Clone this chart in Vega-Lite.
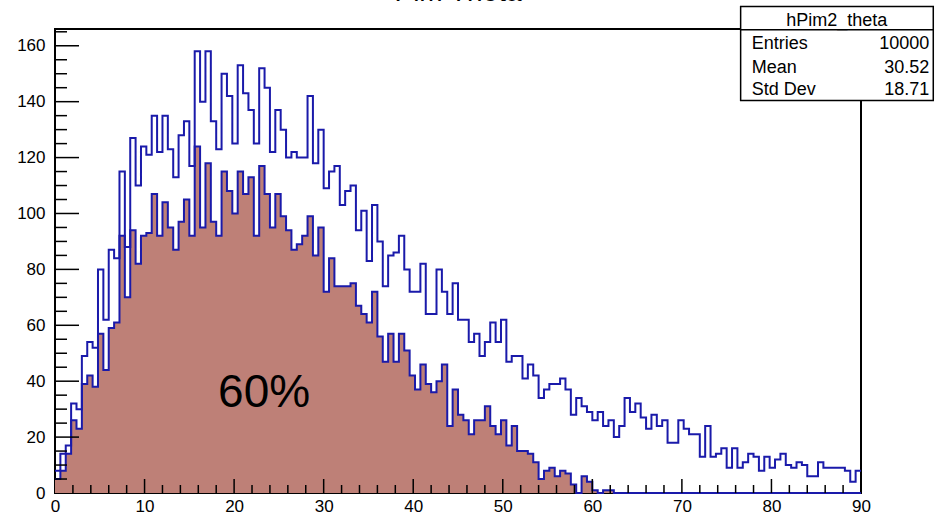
{
  "$schema": "https://vega.github.io/schema/vega-lite/v6.json",
  "width": 806,
  "height": 464,
  "autosize": {"type": "none"},
  "padding": {"left": 55, "top": 29, "right": 76, "bottom": 23},
  "background": "white",
  "config": {
    "view": {"stroke": "black", "strokeWidth": 2},
    "font": "Liberation Sans",
    "axis": {"grid": false, "domain": false, "labelFlush": false, "labelColor": "black"}
  },
  "title": {"text": "Pim Theta", "fontSize": 28, "font": "Liberation Sans", "fontWeight": "normal", "color": "black", "anchor": "middle", "frame": "group", "offset": 0, "dy": 1},
  "datasets": {
    "h": [
      {"lo":0,"all":8,"sel":5},{"lo":0.6,"all":14,"sel":8},{"lo":1.2,"all":17,"sel":14},{"lo":1.8,"all":32,"sel":26},{"lo":2.4,"all":30,"sel":23},{"lo":3,"all":49,"sel":39},{"lo":3.6,"all":54,"sel":42},{"lo":4.2,"all":52,"sel":38},{"lo":4.8,"all":80,"sel":57},{"lo":5.4,"all":62,"sel":44},
      {"lo":6,"all":87,"sel":59},{"lo":6.6,"all":84,"sel":61},{"lo":7.2,"all":115,"sel":92},{"lo":7.8,"all":88,"sel":70},{"lo":8.4,"all":127,"sel":94},{"lo":9,"all":110,"sel":82},{"lo":9.6,"all":124,"sel":92},{"lo":10.2,"all":121,"sel":93},{"lo":10.8,"all":135,"sel":107},{"lo":11.4,"all":122,"sel":92},
      {"lo":12,"all":135,"sel":104},{"lo":12.6,"all":123,"sel":95},{"lo":13.2,"all":113,"sel":87},{"lo":13.8,"all":128,"sel":97},{"lo":14.4,"all":133,"sel":105},{"lo":15,"all":117,"sel":92},{"lo":15.6,"all":158,"sel":124},{"lo":16.2,"all":140,"sel":95},{"lo":16.8,"all":158,"sel":118},{"lo":17.4,"all":133,"sel":97},
      {"lo":18,"all":123,"sel":92},{"lo":18.6,"all":150,"sel":115},{"lo":19.2,"all":142,"sel":108},{"lo":19.8,"all":125,"sel":100},{"lo":20.4,"all":153,"sel":115},{"lo":21,"all":143,"sel":107},{"lo":21.6,"all":137,"sel":113},{"lo":22.2,"all":125,"sel":92},{"lo":22.8,"all":152,"sel":117},{"lo":23.4,"all":145,"sel":107},
      {"lo":24,"all":122,"sel":95},{"lo":24.6,"all":137,"sel":107},{"lo":25.2,"all":130,"sel":99},{"lo":25.8,"all":120,"sel":94},{"lo":26.4,"all":122,"sel":87},{"lo":27,"all":120,"sel":89},{"lo":27.6,"all":120,"sel":92},{"lo":28.2,"all":142,"sel":99},{"lo":28.8,"all":118,"sel":85},{"lo":29.4,"all":130,"sel":95},
      {"lo":30,"all":109,"sel":72},{"lo":30.6,"all":115,"sel":84},{"lo":31.2,"all":117,"sel":74},{"lo":31.8,"all":103,"sel":74},{"lo":32.4,"all":108,"sel":74},{"lo":33,"all":110,"sel":75},{"lo":33.6,"all":94,"sel":67},{"lo":34.2,"all":101,"sel":64},{"lo":34.8,"all":83,"sel":61},{"lo":35.4,"all":103,"sel":72},
      {"lo":36,"all":90,"sel":56},{"lo":36.6,"all":74,"sel":47},{"lo":37.2,"all":85,"sel":57},{"lo":37.8,"all":86,"sel":47},{"lo":38.4,"all":92,"sel":57},{"lo":39,"all":80,"sel":51},{"lo":39.6,"all":72,"sel":42},{"lo":40.2,"all":72,"sel":37},{"lo":40.8,"all":82,"sel":46},{"lo":41.4,"all":64,"sel":39},
      {"lo":42,"all":64,"sel":36},{"lo":42.6,"all":80,"sel":40},{"lo":43.2,"all":72,"sel":46},{"lo":43.8,"all":64,"sel":24},{"lo":44.4,"all":75,"sel":37},{"lo":45,"all":62,"sel":28},{"lo":45.6,"all":62,"sel":26},{"lo":46.2,"all":54,"sel":21},{"lo":46.8,"all":57,"sel":26},{"lo":47.4,"all":49,"sel":26},
      {"lo":48,"all":54,"sel":31},{"lo":48.6,"all":61,"sel":24},{"lo":49.2,"all":54,"sel":21},{"lo":49.8,"all":62,"sel":26},{"lo":50.4,"all":47,"sel":17},{"lo":51,"all":49,"sel":24},{"lo":51.6,"all":49,"sel":15},{"lo":52.2,"all":41,"sel":15},{"lo":52.8,"all":46,"sel":14},{"lo":53.4,"all":42,"sel":11},
      {"lo":54,"all":34,"sel":5},{"lo":54.6,"all":37,"sel":8},{"lo":55.2,"all":39,"sel":9},{"lo":55.8,"all":39,"sel":6},{"lo":56.4,"all":41,"sel":8},{"lo":57,"all":37,"sel":7},{"lo":57.6,"all":28,"sel":3},{"lo":58.2,"all":34,"sel":0},{"lo":58.8,"all":31,"sel":6},{"lo":59.4,"all":29,"sel":4},
      {"lo":60,"all":26,"sel":1},{"lo":60.6,"all":29,"sel":0},{"lo":61.2,"all":24,"sel":1},{"lo":61.8,"all":26,"sel":1},{"lo":62.4,"all":20,"sel":0},{"lo":63,"all":24,"sel":0},{"lo":63.6,"all":34,"sel":0},{"lo":64.2,"all":29,"sel":0},{"lo":64.8,"all":32,"sel":0},{"lo":65.4,"all":27,"sel":0},
      {"lo":66,"all":23,"sel":0},{"lo":66.6,"all":28,"sel":0},{"lo":67.2,"all":24,"sel":0},{"lo":67.8,"all":26,"sel":0},{"lo":68.4,"all":18,"sel":0},{"lo":69,"all":18,"sel":0},{"lo":69.6,"all":26,"sel":0},{"lo":70.2,"all":23,"sel":0},{"lo":70.8,"all":21,"sel":0},{"lo":71.4,"all":21,"sel":0},
      {"lo":72,"all":13,"sel":0},{"lo":72.6,"all":24,"sel":0},{"lo":73.2,"all":13,"sel":0},{"lo":73.8,"all":14,"sel":0},{"lo":74.4,"all":16,"sel":0},{"lo":75,"all":9,"sel":0},{"lo":75.6,"all":16,"sel":0},{"lo":76.2,"all":9,"sel":0},{"lo":76.8,"all":11,"sel":0},{"lo":77.4,"all":14,"sel":0},
      {"lo":78,"all":13,"sel":0},{"lo":78.6,"all":8,"sel":0},{"lo":79.2,"all":13,"sel":0},{"lo":79.8,"all":9,"sel":0},{"lo":80.4,"all":12,"sel":0},{"lo":81,"all":14,"sel":0},{"lo":81.6,"all":10,"sel":0},{"lo":82.2,"all":9,"sel":0},{"lo":82.8,"all":11,"sel":0},{"lo":83.4,"all":10,"sel":0},
      {"lo":84,"all":6,"sel":0},{"lo":84.6,"all":6,"sel":0},{"lo":85.2,"all":11,"sel":0},{"lo":85.8,"all":9,"sel":0},{"lo":86.4,"all":9,"sel":0},{"lo":87,"all":9,"sel":0},{"lo":87.6,"all":9,"sel":0},{"lo":88.2,"all":8,"sel":0},{"lo":88.8,"all":4,"sel":0},{"lo":89.4,"all":8,"sel":0},
      {"lo":90,"all":8,"sel":0}
    ],
    "xmajor": [{"v":10},{"v":20},{"v":30},{"v":40},{"v":50},{"v":60},{"v":70},{"v":80}],
    "xminor": [{"v":2},{"v":4},{"v":6},{"v":8},{"v":12},{"v":14},{"v":16},{"v":18},{"v":22},{"v":24},{"v":26},{"v":28},{"v":32},{"v":34},{"v":36},{"v":38},{"v":42},{"v":44},{"v":46},{"v":48},{"v":52},{"v":54},{"v":56},{"v":58},{"v":62},{"v":64},{"v":66},{"v":68},{"v":72},{"v":74},{"v":76},{"v":78},{"v":82},{"v":84},{"v":86},{"v":88}],
    "ymajor": [{"v":20},{"v":40},{"v":60},{"v":80},{"v":100},{"v":120},{"v":140},{"v":160}],
    "yminor": [{"v":5},{"v":10},{"v":15},{"v":25},{"v":30},{"v":35},{"v":45},{"v":50},{"v":55},{"v":65},{"v":70},{"v":75},{"v":85},{"v":90},{"v":95},{"v":105},{"v":110},{"v":115},{"v":125},{"v":130},{"v":135},{"v":145},{"v":150},{"v":155},{"v":165}],
    "box": [{"name": "hPim2_theta"}]
  },
  "layer": [
    {
      "data": {"name": "h"},
      "mark": {"type": "area", "interpolate": "step-after", "color": "#BE8077"},
      "encoding": {
        "x": {"field": "lo", "type": "quantitative", "scale": {"domain": [0, 90], "nice": false, "zero": false},
              "axis": {"orient": "bottom", "title": null, "values": [0,10,20,30,40,50,60,70,80,90], "ticks": false, "labelFontSize": 17, "labelPadding": 5}},
        "y": {"field": "sel", "type": "quantitative", "scale": {"domain": [0, 166], "nice": false},
              "axis": {"orient": "left", "title": null, "values": [0,20,40,60,80,100,120,140,160], "ticks": false, "labelFontSize": 17, "labelPadding": 10}}
      }
    },
    {
      "data": {"name": "h"},
      "mark": {"type": "line", "interpolate": "step-after", "color": "#1A1AAA", "strokeWidth": 2},
      "encoding": {
        "x": {"field": "lo", "type": "quantitative"},
        "y": {"field": "sel", "type": "quantitative"}
      }
    },
    {
      "data": {"name": "h"},
      "mark": {"type": "line", "interpolate": "step-after", "color": "#1A1AAA", "strokeWidth": 2},
      "encoding": {
        "x": {"field": "lo", "type": "quantitative"},
        "y": {"field": "all", "type": "quantitative"}
      }
    },
    {
      "data": {"name": "xmajor"},
      "mark": {"type": "rule", "color": "#000000", "strokeWidth": 1.5},
      "encoding": {
        "x": {"field": "v", "type": "quantitative"},
        "y": {"datum": 0, "type": "quantitative"},
        "y2": {"datum": 5.01}
      }
    },
    {
      "data": {"name": "xminor"},
      "mark": {"type": "rule", "color": "#000000", "strokeWidth": 1.5},
      "encoding": {
        "x": {"field": "v", "type": "quantitative"},
        "y": {"datum": 0, "type": "quantitative"},
        "y2": {"datum": 2.86}
      }
    },
    {
      "data": {"name": "ymajor"},
      "mark": {"type": "rule", "color": "#000000", "strokeWidth": 1.5},
      "encoding": {
        "y": {"field": "v", "type": "quantitative"},
        "x": {"datum": 0, "type": "quantitative"},
        "x2": {"datum": 2.68}
      }
    },
    {
      "data": {"name": "yminor"},
      "mark": {"type": "rule", "color": "#000000", "strokeWidth": 1.5},
      "encoding": {
        "y": {"field": "v", "type": "quantitative"},
        "x": {"datum": 0, "type": "quantitative"},
        "x2": {"datum": 1.34}
      }
    },
    {
      "data": {"name": "box"},
      "mark": {"type": "rect", "fill": "white", "stroke": "black", "strokeWidth": 1.5},
      "encoding": {
        "x": {"datum": 76.56, "type": "quantitative"},
        "x2": {"datum": 98.07},
        "y": {"datum": 174.05, "type": "quantitative"},
        "y2": {"datum": 140.4}
      }
    },
    {
      "data": {"name": "box"},
      "mark": {"type": "rule", "color": "black", "strokeWidth": 1.5},
      "encoding": {
        "x": {"datum": 76.56, "type": "quantitative"},
        "x2": {"datum": 98.07},
        "y": {"datum": 165.7, "type": "quantitative"}
      }
    },
    {
      "data": {"name": "box"},
      "mark": {"type": "text", "fontSize": 18, "align": "center", "baseline": "alphabetic", "color": "black"},
      "encoding": {
        "x": {"datum": 87.3, "type": "quantitative"},
        "y": {"datum": 166.9, "type": "quantitative"},
        "text": {"field": "name"}
      }
    },
    {
      "data": {"values": [{"t": "Entries"}]},
      "mark": {"type": "text", "fontSize": 18, "align": "left", "baseline": "alphabetic", "color": "black"},
      "encoding": {
        "x": {"datum": 77.79, "type": "quantitative"},
        "y": {"datum": 158.8, "type": "quantitative"},
        "text": {"field": "t"}
      }
    },
    {
      "data": {"values": [{"t": "Mean"}]},
      "mark": {"type": "text", "fontSize": 18, "align": "left", "baseline": "alphabetic", "color": "black"},
      "encoding": {
        "x": {"datum": 77.79, "type": "quantitative"},
        "y": {"datum": 150.4, "type": "quantitative"},
        "text": {"field": "t"}
      }
    },
    {
      "data": {"values": [{"t": "Std Dev"}]},
      "mark": {"type": "text", "fontSize": 18, "align": "left", "baseline": "alphabetic", "color": "black"},
      "encoding": {
        "x": {"datum": 77.79, "type": "quantitative"},
        "y": {"datum": 142.4, "type": "quantitative"},
        "text": {"field": "t"}
      }
    },
    {
      "data": {"values": [{"t": "10000"}]},
      "mark": {"type": "text", "fontSize": 18, "align": "right", "baseline": "alphabetic", "color": "black"},
      "encoding": {
        "x": {"datum": 97.62, "type": "quantitative"},
        "y": {"datum": 158.8, "type": "quantitative"},
        "text": {"field": "t"}
      }
    },
    {
      "data": {"values": [{"t": "30.52"}]},
      "mark": {"type": "text", "fontSize": 18, "align": "right", "baseline": "alphabetic", "color": "black"},
      "encoding": {
        "x": {"datum": 97.62, "type": "quantitative"},
        "y": {"datum": 150.4, "type": "quantitative"},
        "text": {"field": "t"}
      }
    },
    {
      "data": {"values": [{"t": "18.71"}]},
      "mark": {"type": "text", "fontSize": 18, "align": "right", "baseline": "alphabetic", "color": "black"},
      "encoding": {
        "x": {"datum": 97.62, "type": "quantitative"},
        "y": {"datum": 142.4, "type": "quantitative"},
        "text": {"field": "t"}
      }
    },
    {
      "data": {"values": [{"t": "60%"}]},
      "mark": {"type": "text", "fontSize": 46, "align": "center", "baseline": "alphabetic", "color": "black"},
      "encoding": {
        "x": {"datum": 23.35, "type": "quantitative"},
        "y": {"datum": 30.8, "type": "quantitative"},
        "text": {"field": "t"}
      }
    }
  ]
}
